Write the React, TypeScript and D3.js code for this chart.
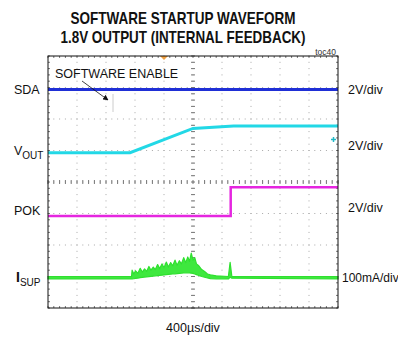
import * as d3 from 'd3'

// time in divisions (0..10), amplitude in divisions (0 = bottom, 8 = top)
const sdaTrace: [number, number][] = [[0, 6.94], [10, 6.94]]
const voutTrace: [number, number][] = [[0, 4.93], [2.83, 4.93], [5.0, 5.7], [6.4, 5.78], [10, 5.78]]
const pokTrace: [number, number][] = [[0, 2.92], [6.3, 2.92], [6.3, 3.83], [10, 3.83]]
const isupUpper: [number, number][] = [
  [0, 1.0], [2.88, 1.0], [2.9, 1.2], [2.96, 1.08], [3.02, 1.18], [3.1, 1.1], [3.18, 1.26],
  [3.25, 1.14], [3.33, 1.24], [3.4, 1.16], [3.48, 1.32], [3.55, 1.2], [3.63, 1.3], [3.7, 1.22],
  [3.78, 1.38], [3.85, 1.25], [3.93, 1.4], [4.0, 1.28], [4.08, 1.46], [4.15, 1.3], [4.23, 1.44],
  [4.3, 1.34], [4.38, 1.52], [4.45, 1.36], [4.53, 1.5], [4.6, 1.4], [4.68, 1.6], [4.75, 1.44],
  [4.82, 1.62], [4.88, 1.48], [4.94, 1.74], [5.0, 1.52], [5.06, 1.6], [5.12, 1.4], [5.2, 1.34],
  [5.3, 1.22], [5.4, 1.16], [5.5, 1.08], [5.6, 1.05], [5.8, 1.02], [6.22, 1.0], [6.28, 1.45],
  [6.34, 1.0], [10, 1.0],
]
const isupLower: [number, number][] = [
  [0, 0.92], [2.9, 0.92], [3.3, 0.98], [3.8, 1.03], [4.3, 1.08], [4.8, 1.12], [5.0, 1.1],
  [5.3, 1.0], [5.6, 0.93], [6.22, 0.92], [6.3, 1.0], [6.36, 0.92], [10, 0.92],
]

const leftLabels = [
  {name: 'SDA', sub: '', y: 6.94},
  {name: 'V', sub: 'OUT', y: 5.0},
  {name: 'POK', sub: '', y: 3.1},
  {name: 'I', sub: 'SUP', y: 0.96},
]
const rightLabels = [
  {text: '2V/div', y: 6.94},
  {text: '2V/div', y: 5.15},
  {text: '2V/div', y: 3.2},
  {text: '100mA/div', y: 0.96},
]

const FONT = 'Liberation Sans, Arial, sans-serif'

export default function App() {
  const width = 398
  const height = 339
  const left = 48
  const right = 338
  const top = 56
  const bottom = 308

  const x = d3.scaleLinear().domain([0, 10]).range([left, right])
  const y = d3.scaleLinear().domain([0, 8]).range([bottom, top])
  const lower = d3.scaleLinear().domain(isupLower.map(p => p[0])).range(isupLower.map(p => p[1]))

  const line = d3.line<[number, number]>().x(d => x(d[0])).y(d => y(d[1]))
  const band = d3.area<[number, number]>()
    .x(d => x(d[0]))
    .y1(d => y(d[1]))
    .y0(d => y(lower(d[0])))

  const xDivs = d3.range(0, 11)
  const yDivs = d3.range(0, 9)
  const xMinor = d3.range(0, 50.001, 1).map(i => i / 5)
  const yMinor = d3.range(0, 40.001, 1).map(i => i / 5)

  return (
    <svg width={width} height={height} style={{position: 'absolute', left: 0, top: 0}}>
      <rect width={width} height={height} fill="#fff" />
      <g fontFamily={FONT} fontWeight={700} textAnchor="middle" fill="#111">
        <text x={183} y={24} fontSize={17} textLength={225} lengthAdjust="spacingAndGlyphs">SOFTWARE STARTUP WAVEFORM</text>
        <text x={183} y={43} fontSize={17} textLength={245} lengthAdjust="spacingAndGlyphs">1.8V OUTPUT (INTERNAL FEEDBACK)</text>
      </g>
      <text x={336} y={55} fontSize={8.5} fontFamily={FONT} textAnchor="end" fill="#333">toc40</text>

      {/* dotted grid */}
      <g fill="#a8a8a8">
        {xDivs.slice(1, -1).map(d => yMinor.map(m => (
          <rect key={`v${d}-${m}`} x={x(d) - 0.5} y={y(m) - 0.5} width={1} height={1} />
        )))}
        {yDivs.slice(1, -1).map(d => xMinor.map(m => (
          <rect key={`h${d}-${m}`} x={x(m) - 0.5} y={y(d) - 0.5} width={1} height={1} />
        )))}
      </g>
      {/* centre axes ticks */}
      <g stroke="#777" strokeWidth={1}>
        {yMinor.map(m => <line key={`cy${m}`} x1={x(5) - 2} x2={x(5) + 2} y1={y(m)} y2={y(m)} />)}
        {xMinor.map(m => <line key={`cx${m}`} x1={x(m)} x2={x(m)} y1={y(4) - 2} y2={y(4) + 2} />)}
        {xMinor.map(m => <line key={`tx${m}`} x1={x(m)} x2={x(m)} y1={top} y2={top + 2} />)}
        {xMinor.map(m => <line key={`bx${m}`} x1={x(m)} x2={x(m)} y1={bottom} y2={bottom - 2} />)}
        {yMinor.map(m => <line key={`ly${m}`} x1={left} x2={left + 2} y1={y(m)} y2={y(m)} />)}
        {yMinor.map(m => <line key={`ry${m}`} x1={right} x2={right - 2} y1={y(m)} y2={y(m)} />)}
      </g>
      <line x1={113} x2={113} y1={94} y2={112} stroke="#ccc" strokeWidth={1} />

      {/* traces */}
      <path d={line(sdaTrace) ?? undefined} fill="none" stroke="#1f2fd6" strokeWidth={3} />
      <path d={line(voutTrace) ?? undefined} fill="none" stroke="#22d8e6" strokeWidth={3} />
      <path d={line(pokTrace) ?? undefined} fill="none" stroke="#e526e0" strokeWidth={2.5} />
      <path d={band(isupUpper) ?? undefined} fill="#3ee83e" stroke="#2fe02f" strokeWidth={1.2} strokeLinejoin="round" />

      {/* markers */}
      <path d={`M${x(4.0) - 4},${top} L${x(4.0) + 4},${top} L${x(4.0)},${top + 4} Z`} fill="#f0a040" />
      <path d={`M${right - 7},${y(5.35)} h5 M${right - 4.5},${y(5.35) - 2.5} v5`} stroke="#22b8c6" strokeWidth={1.5} />

      <rect x={left} y={top} width={right - left} height={bottom - top} fill="none" stroke="#111" strokeWidth={1} />

      {/* annotation */}
      <text x={55} y={78} fontSize={12.5} fontFamily={FONT} fill="#111">SOFTWARE ENABLE</text>
      <defs>
        <marker id="arr" viewBox="0 0 10 10" refX={9} refY={5} markerWidth={7} markerHeight={7} orient="auto">
          <path d="M0,0 L10,5 L0,10 Z" fill="#111" />
        </marker>
      </defs>
      <line x1={82} y1={81} x2={108} y2={100} stroke="#111" strokeWidth={0.8} markerEnd="url(#arr)" />

      {/* channel labels */}
      <g fontFamily={FONT} fontSize={12.5} fill="#111">
        {leftLabels.map(l => (
          <text key={l.name} x={l.name === 'I' ? 16 : 14} y={y(l.y) + 4.5}>
            {l.name === 'I'
              ? <tspan fontWeight={700} fontSize={14}>{l.name}</tspan>
              : l.name}
            {l.sub && <tspan fontSize={10} dy={4}>{l.sub}</tspan>}
          </text>
        ))}
        {rightLabels.map((l, i) => (
          <text key={i} x={i === 3 ? 342 : 348} y={y(l.y) + 4.5} fontSize={i === 3 ? 12 : 12.5}>{l.text}</text>
        ))}
        <text x={193} y={332} textAnchor="middle">400µs/div</text>
      </g>
    </svg>
  )
}
